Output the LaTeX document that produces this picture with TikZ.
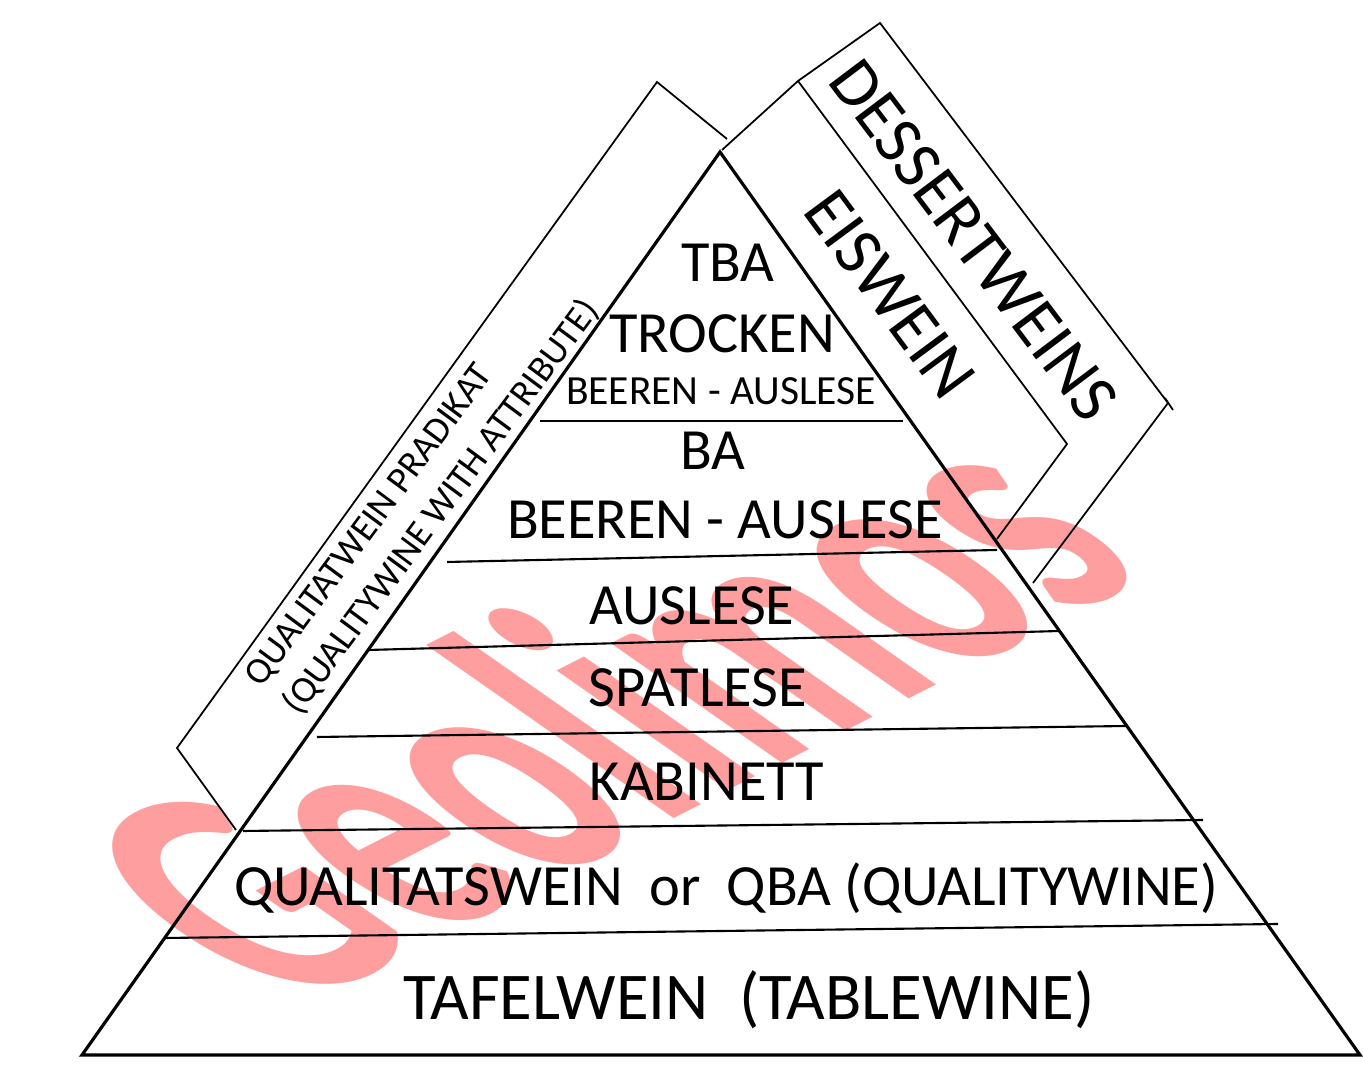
\documentclass[tikz,border=0pt]{standalone}
\usepackage{fontspec}
\setmainfont{Carlito}
\usetikzlibrary{calc}

\begin{document}
\begin{tikzpicture}[
  x=0.01cm, y=-0.01cm,
  lvl/.style={font=\fontsize{16.6}{20}\selectfont, anchor=base, inner sep=0pt},
  side/.style={font=\fontsize{19.6}{24}\selectfont, inner sep=0pt},
  note/.style={font=\fontsize{10.6}{13.5}\selectfont, align=left, inner sep=0pt},
  wmark/.style={font=\fontsize{85}{90}\selectfont\bfseries, text=red!38, inner sep=0pt},
  edge/.style={line width=0.9pt, line join=miter},
  tier/.style={line width=0.6pt},
  bracket/.style={line width=0.5pt, line join=miter}
]

\useasboundingbox[fill=white] (0,0) rectangle (1363,1068);

\begin{scope}[shift={(600,708)}]
\node[wmark, cm={0.74,0.377,-1.18,0.826,(0,0)}, transform shape] (geolimos) at (0,0) {Geolimos};
\end{scope}

\coordinate (apex) at (720,152);
\coordinate (bl) at (82,1055);
\coordinate (br) at (1360,1055);
\draw[edge] (bl) -- (apex) -- (br) -- cycle;

\draw[tier] (540,421) -- (903,421);
\draw[tier] (447,562) -- (997,550);
\draw[tier] (368,650) -- (1060,631);
\draw[tier] (317,737) -- (1127,726);
\draw[tier] (243,831) -- (1203,820);
\draw[tier] (165,938) -- (1278,924);

\draw[bracket] (236,830) -- (177,748) -- (657,82) -- (727,139);
\draw[bracket] (722,150) -- (798,81) -- (880,23) -- (1168,403) -- (1033,583);
\draw[bracket] (798,81) -- (1067,444) -- (997,539);
\draw[bracket] (1165,398) -- (1173,410);

\node[lvl] (tba) at (728,282) {TBA};
\node[lvl] (trocken) at (722,353) {TROCKEN};
\node[lvl, font=\fontsize{11.8}{14}\selectfont] (beerentba) at (721,405) {BEEREN - AUSLESE};
\node[lvl] (ba) at (713,470) {BA};
\node[lvl] (beeren) at (725,539) {BEEREN - AUSLESE};
\node[lvl] (auslese) at (692,625) {AUSLESE};
\node[lvl] (spatlese) at (698,707) {SPATLESE};
\node[lvl] (kabinett) at (707,801) {KABINETT};
\node[lvl] (qba) at (726,906) {QUALITATSWEIN\ \ or\ \ QBA (QUALITYWINE)};
\node[lvl, font=\fontsize{19}{22}\selectfont] (tafel) at (749,1020) {TAFELWEIN\ \ (TABLEWINE)};

\node[side, rotate=-53] (dessert) at (974,240) {DESSERTWEINS};
\node[side, rotate=-53.5] (eiswein) at (890,294) {EISWEIN};
\node[note, rotate=53.5] (pradikat) at (423,494) {QUALITATWEIN PRADIKAT\\(QUALITYWINE WITH ATTRIBUTE)};
\end{tikzpicture}
\end{document}
